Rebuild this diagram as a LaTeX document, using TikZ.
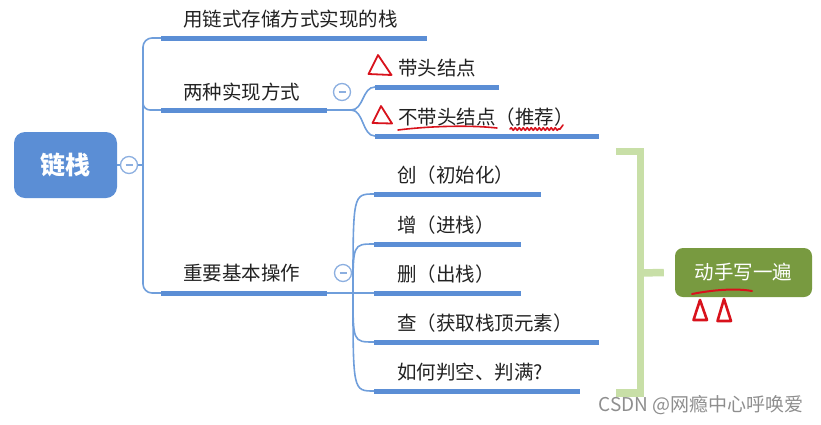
\documentclass[tikz,border=0pt]{standalone}
\usepackage{fontspec}
\setmainfont{Noto Sans CJK SC}
\usepackage{tikz}
\usetikzlibrary{calc, decorations.pathmorphing}
\definecolor{mapblue}{HTML}{5B8ED5}
\definecolor{linkblue}{HTML}{6F9EDB}
\definecolor{foldblue}{HTML}{8CAFE0}
\definecolor{inkdark}{HTML}{222222}
\definecolor{bracegreen}{HTML}{C8DFA7}
\definecolor{taskgreen}{HTML}{789A40}
\definecolor{penred}{HTML}{D8121C}
\definecolor{markgray}{HTML}{8E8E8E}

\tikzset{
  bar/.style={mapblue, line width=5pt},
  link/.style={linkblue, line width=1.6pt},
  topic/.style={anchor=west, text=inkdark, font=\fontsize{19.5}{22}\selectfont},
  fold/.style={circle, draw=foldblue, line width=1.3pt, fill=white, minimum size=17pt,
    path picture={\draw[foldblue, line width=1.3pt]
      ($(path picture bounding box.center)+(-3.5pt,0)$) -- ++(7pt,0);}},
  rootbox/.style={fill=mapblue, rounded corners=11pt, minimum width=103pt, minimum height=66pt,
    text=white, font=\fontsize{25}{28}\selectfont\bfseries},
  taskbox/.style={fill=taskgreen, rounded corners=8pt, minimum width=137pt, minimum height=49pt,
    text=white, font=\fontsize{19.5}{22}\selectfont},
  brace/.style={bracegreen, line width=7.5pt},
  pen/.style={penred, line width=1.6pt, line cap=round, line join=round},
}

\begin{document}
\begin{tikzpicture}[x=1pt, y=-1pt, every node/.style={inner sep=0pt}]
  \useasboundingbox (0,0) rectangle (821,424);

  % Root and trunk
  \node[rootbox] (root) at (65.5,165) {链栈};
  \coordinate (trunk) at (143,165);
  \coordinate (b1s) at (161,38);  \coordinate (b1e) at (427,38);
  \coordinate (b2s) at (161,110); \coordinate (b2e) at (327,110);
  \coordinate (b3s) at (161,293); \coordinate (b3e) at (327,293);
  \draw[link] (root.east) -- (trunk);
  \draw[link, rounded corners=9pt] (b1s) -| (trunk) |- (b3s);
  \draw[link, rounded corners=7pt] ($(trunk |- b2s)+(0,-12)$) |- (b2s);
  \foreach \s/\e in {b1s/b1e, b2s/b2e, b3s/b3e}
    \draw[bar] (\s) -- (\e);
  \node[fold] (f0) at (129,165) {};
  \node[topic] (store) at ($(b1s)+(22,-19)$) {用链式存储方式实现的栈};
  \node[topic] (impl) at ($(b2s)+(22,-18)$) {两种实现方式};
  \node[topic] (ops) at ($(b3s)+(22,-20)$) {重要基本操作};

  % Two ways
  \node[fold] (f1) at (342,92) {};
  \coordinate (j1) at (351,110);
  \coordinate (h1s) at (375,87);  \coordinate (h1e) at (499,87);
  \coordinate (h2s) at (375,136); \coordinate (h2e) at (599,136);
  \draw[link] (b2e) -- (j1);
  \foreach \t in {h1s, h2s}
    \draw[link] (j1) .. controls ($(j1)+(13,0)$) and ($(\t)+(-13,0)$) .. (\t);
  \draw[bar] (h1s) -- (h1e);
  \draw[bar] (h2s) -- (h2e);
  \node[topic] (head) at ($(h1s)+(23,-19)$) {带头结点};
  \node[topic] (nohead) at ($(h2s)+(23,-19)$) {不带头结点（推荐）};

  % Basic operations
  \node[fold] (f2) at (343,273) {};
  \coordinate (j2) at (353,293);
  \draw[link] (b3e) -- (j2);
  \foreach \y/\w/\lbl [count=\i] in {
    194/541/创（初始化）,
    244/521/增（进栈）,
    293/521/删（出栈）,
    342/599/查（获取栈顶元素）,
    391/580/如何判空、判满?
  }{
    \coordinate (os\i) at (374,\y);
    \coordinate (oe\i) at (\w,\y);
    \draw[link] (j2) .. controls (j2 |- os\i) .. (os\i);
    \draw[bar] (os\i) -- (oe\i);
    \node[topic] (op\i) at ($(os\i)+(23,-19)$) {\lbl};
  }

  % Bracket and task
  \node[taskbox] (task) at (743.5,272.5) {动手写一遍};
  \coordinate (brtop) at (616,151.5);
  \coordinate (brbot) at (616,393);
  \coordinate (brmid) at (640.5,273);
  \draw[brace] (brtop) -| (brmid) |- (brbot);
  \draw[brace] (brmid) -- ($(task.west)+(-11,0)$);

  % Hand-drawn marks
  \draw[pen, line width=1.8pt] (378,55) -- (368.5,74) -- (391.5,75) -- cycle;
  \draw[pen, line width=1.8pt] (381,106) -- (372.5,123) -- (392,123.5) -- cycle;
  \draw[pen] (398,130) .. controls (430,126) and (470,125) .. (497,128);
  \draw[pen, decorate, decoration={snake, amplitude=1.3pt, segment length=4pt}] (510,129) -- (560,129);
  \draw[pen] (560,129) -- (563,125);
  \draw[pen, line width=2pt] (692,294) .. controls (712,290) and (735,288) .. (752,291);
  \draw[pen, line width=2.6pt] (700,300) -- (693.5,320) -- (707,320) -- cycle;
  \draw[pen, line width=2.6pt] (724,299) -- (717.5,321) -- (731,321) -- cycle;

  % Watermark
  \node[text=markgray, font=\fontsize{19}{22}\selectfont] (csdn) at (701,405) {CSDN @网瘾中心呼唤爱};
\end{tikzpicture}
\end{document}
